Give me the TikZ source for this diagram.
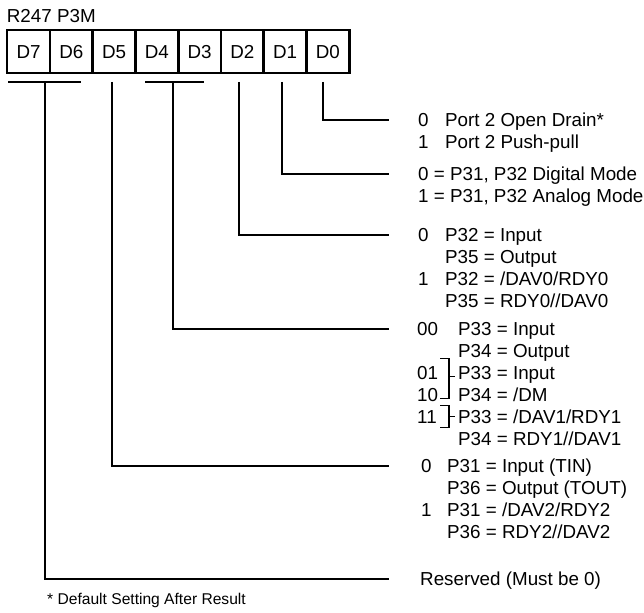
\documentclass[tikz,border=0pt]{standalone}
\usepackage{fontspec}
\setmainfont{Liberation Sans}
\usetikzlibrary{positioning,calc,matrix}

\begin{document}
\begin{tikzpicture}[
  x=1pt, y=-1pt,
  font=\fontsize{18.8}{22}\selectfont,
  wire/.style={line width=2.6pt},
  brace/.style={line width=1.3pt},
  group/.style={anchor=base west, inner sep=0pt}
]
\useasboundingbox (0,0) rectangle (644,612);
% register cells
\matrix (reg) [
  matrix of nodes,
  nodes={draw, line width=2.6pt, minimum width=42.75pt, minimum height=43pt, anchor=center, inner sep=0pt},
  row sep=-2.6pt, column sep=-2.6pt,
  inner sep=0pt, anchor=north west
] at (5.7,28.7) {
D7 & D6 & D5 & D4 & D3 & D2 & D1 & D0 \\
};
\node (title) [anchor=base west, inner sep=0pt] at ([shift={(1,-6)}]reg.north west) {R247 P3M};

% taps under the cells
\coordinate (bar76a) at (8,82);
\coordinate (bar76b) at (81,82);
\coordinate (tap76) at (45,82);
\coordinate (bar43a) at (145,82);
\coordinate (bar43b) at (204,82);
\coordinate (tap43) at (173,82);
\coordinate (tap5) at (112,82);
\coordinate (tap2) at (239,82);
\coordinate (tap1) at (282,82);
\coordinate (tap0) at (323,82);
\coordinate (rail) at (389,0);

% bit descriptions
\node (g0) [group] at (418,126.7) {\begin{tabular}[t]{@{}p{27pt}@{}l@{}}
0 & Port 2 Open Drain*\\
1 & Port 2 Push-pull
\end{tabular}};
\node (g1) [group] at (418,180.7) {\begin{tabular}[t]{@{}l@{}}
0 = P31, P32 Digital Mode\\
1 = P31, P32 Analog Mode
\end{tabular}};
\node (g2) [group] at (418,241.7) {\begin{tabular}[t]{@{}p{27pt}@{}l@{}}
0 & P32 = Input\\
  & P35 = Output\\
1 & P32 = /DAV0/RDY0\\
  & P35 = RDY0//DAV0
\end{tabular}};
\node (g43) [group] at (417,335.7) {\begin{tabular}[t]{@{}p{41pt}@{}l@{}}
00 & P33 = Input\\
   & P34 = Output\\
01 & P33 = Input\\
10 & P34 = /DM\\
11 & P33 = /DAV1/RDY1\\
   & P34 = RDY1//DAV1
\end{tabular}};
\node (g5) [group] at (421,472.7) {\begin{tabular}[t]{@{}p{26pt}@{}l@{}}
0 & P31 = Input (TIN)\\
  & P36 = Output (TOUT)\\
1 & P31 = /DAV2/RDY2\\
  & P36 = RDY2//DAV2
\end{tabular}};
\node (res) [group] at (420,585.7) {Reserved (Must be 0)};
\node (note) [group, font=\fontsize{15.6}{18}\selectfont] at (47,604) {* Default Setting After Result};

\coordinate (p0) at ([yshift=6.7pt]g0.base west);
\coordinate (p1) at ([yshift=6.7pt]g1.base west);
\coordinate (p2) at ([yshift=6.7pt]g2.base west);
\coordinate (p43) at ([yshift=6.7pt]g43.base west);
\coordinate (p5) at ([yshift=6.7pt]g5.base west);
\coordinate (pres) at ([yshift=6.7pt]res.base west);

% connectors
\draw[wire] (bar76a) -- (bar76b);
\draw[wire] (bar43a) -- (bar43b);
\draw[wire] (tap0) |- (p0 -| rail);
\draw[wire] (tap1) |- (p1 -| rail);
\draw[wire] (tap2) |- (p2 -| rail);
\draw[wire] (tap43) |- (p43 -| rail);
\draw[wire] (tap5) |- (p5 -| rail);
\draw[wire] (tap76) |- (pres -| rail);

% brackets for 01/10 and 10/11
\draw[brace] ($(g43.base west)+(23,23)$) -- ++(9,0) -- ++(0,40) -- ++(-9,0);
\draw[brace] ($(g43.base west)+(32,41)$) -- ++(6,0);
\draw[brace] ($(g43.base west)+(23,70)$) -- ++(9,0) -- ++(0,22) -- ++(-9,0);
\draw[brace] ($(g43.base west)+(32,81)$) -- ++(6,0);
\end{tikzpicture}
\end{document}
